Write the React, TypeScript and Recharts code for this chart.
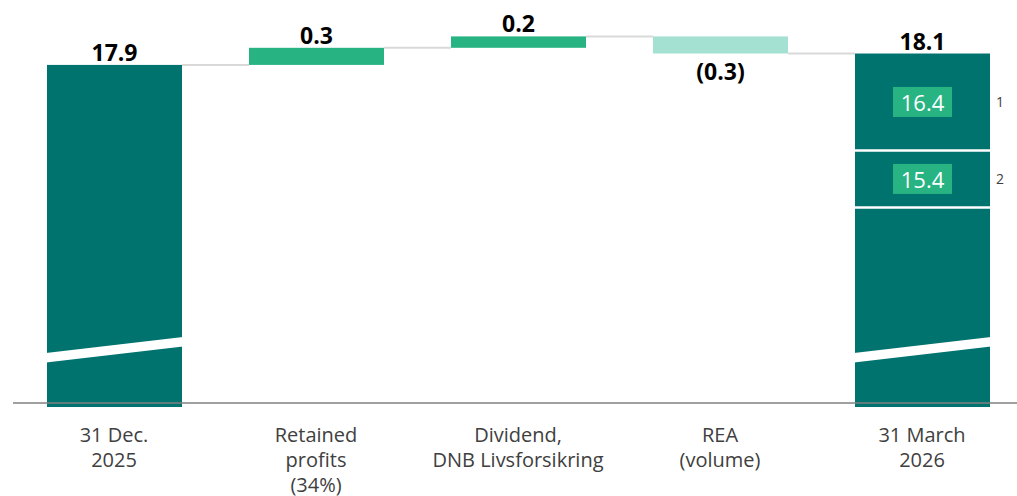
import React from "react";
import { BarChart, Bar, XAxis, YAxis, ReferenceLine, LabelList } from "recharts";

const categories = [
  "31 Dec.\n2025",
  "Retained\nprofits\n(34%)",
  "Dividend,\nDNB Livsforsikring",
  "REA\n(volume)",
  "31 March\n2026",
];
const changes = [17.9, 0.3, 0.2, -0.3, 18.1];
const isTotal = [true, false, false, false, true];
const thresholds = [16.4, 15.4];
const thresholdNotes = ["1", "2"];

const yDomain: [number, number] = [11.9, 18.6];
const axisLevel = 11.97;

const TEAL = "#00736F";
const GREEN = "#28B383";
const MINT = "#A5E1D3";
const CONNECT = "#D9D9D9";
const FONT = "'Open Sans', 'Noto Sans', sans-serif";

const CHART_W = 1023;
const CHART_H = 496;
const XAXIS_H = 89;
const MARGIN = { top: 25, right: 0, left: 13, bottom: 0 };
const BAR_SIZE = 135;
const BAND = (CHART_W - MARGIN.left - MARGIN.right) / categories.length;
const GAP = BAND - BAR_SIZE;
const PLOT_H = CHART_H - MARGIN.top - MARGIN.bottom - XAXIS_H;
const PXU = PLOT_H / (yDomain[1] - yDomain[0]);

const r1 = (v: number) => Math.round(v * 10) / 10;

let running = 0;
const data = categories.map((name, i) => {
  const v = changes[i];
  let base: number;
  let size: number;
  let after: number;
  if (isTotal[i]) {
    base = 0;
    size = v;
    after = v;
  } else if (v >= 0) {
    base = running;
    size = v;
    after = running + v;
  } else {
    base = running + v;
    size = -v;
    after = running + v;
  }
  running = r1(after);
  return {
    name,
    base: r1(base),
    size: r1(size),
    value: v,
    total: isTotal[i],
    last: i === categories.length - 1,
  };
});

const fmt = (v: number) => (v < 0 ? `(${Math.abs(v).toFixed(1)})` : v.toFixed(1));

function WaterfallShape(props: any) {
  const { x, y, width, height, payload } = props;
  const p = payload;
  const color = p.total ? TEAL : p.value >= 0 ? GREEN : MINT;
  const topVal = p.base + p.size;
  const plotBottom = y + (topVal - yDomain[0]) * PXU;
  const connY = p.value < 0 ? y + height : y;
  const els: any[] = [];
  els.push(<rect key="r" x={x} y={y} width={width} height={height} fill={color} />);
  if (!p.last) {
    els.push(
      <line key="c" x1={x + width} x2={x + width + GAP} y1={connY} y2={connY} stroke={CONNECT} strokeWidth={2} />
    );
  }
  if (p.total) {
    const pb = plotBottom;
    els.push(
      <polygon
        key="brk"
        points={`${x - 1},${pb - 54} ${x + width + 1},${pb - 70} ${x + width + 1},${pb - 60.5} ${x - 1},${pb - 44.5}`}
        fill="#FFFFFF"
      />
    );
  }
  if (p.last) {
    let prevY = y;
    thresholds.forEach((t, i) => {
      const ty = y + (topVal - t) * PXU;
      const cy = (prevY + ty) / 2;
      const cx = x + width / 2;
      els.push(<line key={`tl${i}`} x1={x} x2={x + width} y1={ty} y2={ty} stroke="#FFFFFF" strokeWidth={2.5} />);
      els.push(<rect key={`tb${i}`} x={cx - 29.5} y={cy - 15} width={59} height={30} fill={GREEN} />);
      els.push(
        <text key={`tt${i}`} x={cx} y={cy} textAnchor="middle" dominantBaseline="central" fill="#FFFFFF" fontSize={22} fontFamily={FONT}>
          {t.toFixed(1)}
        </text>
      );
      els.push(
        <text key={`tn${i}`} x={x + width + 10} y={cy} textAnchor="middle" dominantBaseline="central" fill="#404040" fontSize={14} fontFamily={FONT}>
          {thresholdNotes[i]}
        </text>
      );
      prevY = ty;
    });
  }
  return <g>{els}</g>;
}

function ValueLabel(props: any) {
  const { x, y, width, height, value } = props;
  const cx = x + width / 2;
  const neg = value < 0;
  const ty = neg ? y + height + 17 : y - 13;
  return (
    <text x={cx} y={ty} textAnchor="middle" dominantBaseline="central" fill="#000000" fontSize={23} fontWeight={700} fontFamily={FONT}>
      {fmt(value)}
    </text>
  );
}

function Tick(props: any) {
  const { x, y, payload } = props;
  const lines = String(payload.value).split("\n");
  return (
    <text x={x} y={y + 27} textAnchor="middle" fill="#404040" fontSize={20} fontFamily={FONT}>
      {lines.map((l, i) => (
        <tspan key={i} x={x} dy={i === 0 ? 0 : 25}>
          {l}
        </tspan>
      ))}
    </text>
  );
}

export default function App() {
  return (
    <div style={{ position: "absolute", left: 0, top: 0, width: 1017, height: 496, overflow: "hidden", background: "#fff" }}>
      <BarChart width={CHART_W} height={CHART_H} data={data} margin={MARGIN} barSize={BAR_SIZE}>
        <XAxis dataKey="name" axisLine={false} tickLine={false} height={XAXIS_H} interval={0} tick={<Tick />} />
        <YAxis hide type="number" domain={yDomain} allowDataOverflow />
        <ReferenceLine y={axisLevel} stroke="#808080" strokeWidth={1.5} />
        <Bar dataKey="base" stackId="a" fill="transparent" isAnimationActive={false} />
        <Bar dataKey="size" stackId="a" shape={<WaterfallShape />} isAnimationActive={false}>
          <LabelList dataKey="value" content={<ValueLabel />} />
        </Bar>
      </BarChart>
    </div>
  );
}
